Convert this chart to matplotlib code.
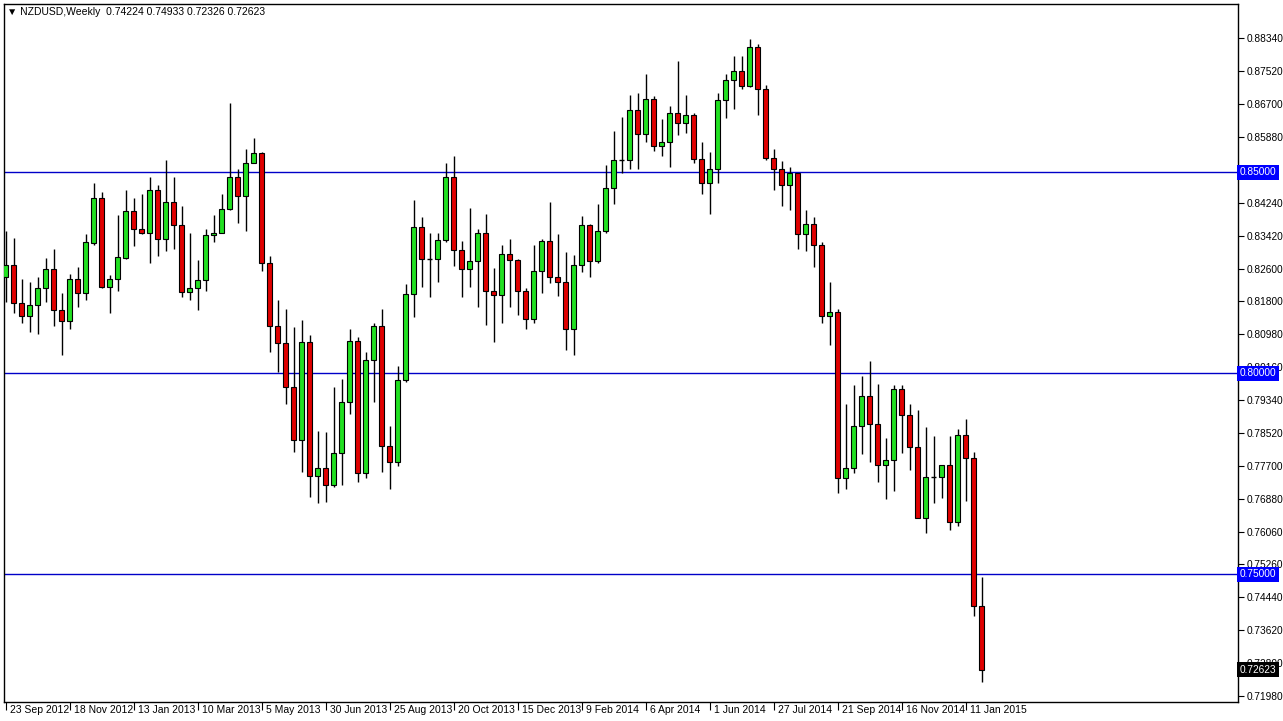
import matplotlib
matplotlib.use("Agg")
import matplotlib.pyplot as plt
import matplotlib.transforms as mtransforms
import numpy as np

plt.rcParams["font.family"] = ["Liberation Sans", "DejaVu Sans"]

# weekly NZDUSD candles, first week 23 Sep 2012
opens = [0.8240, 0.8269, 0.8174, 0.8142, 0.8169, 0.8212, 0.8259, 0.8157, 0.8130, 0.8234,
         0.8199, 0.8323, 0.8437, 0.8214, 0.8234, 0.8286, 0.8403, 0.8358, 0.8350, 0.8455,
         0.8333, 0.8425, 0.8368, 0.8202, 0.8212, 0.8231, 0.8343, 0.8350, 0.8408, 0.8489,
         0.8440, 0.8524, 0.8549, 0.8274, 0.8117, 0.8075, 0.7966, 0.7835, 0.8078, 0.7745,
         0.7765, 0.7721, 0.7802, 0.7929, 0.8080, 0.7753, 0.8033, 0.8117, 0.7820, 0.7780,
         0.7983, 0.8197, 0.8365, 0.8284, 0.8284, 0.8331, 0.8487, 0.8306, 0.8259, 0.8279,
         0.8350, 0.8204, 0.8194, 0.8296, 0.8281, 0.8204, 0.8135, 0.8254, 0.8328, 0.8239,
         0.8226, 0.8110, 0.8269, 0.8368, 0.8279, 0.8355, 0.8460, 0.8531, 0.8531, 0.8655,
         0.8596, 0.8683, 0.8566, 0.8576, 0.8648, 0.8623, 0.8643, 0.8534, 0.8474, 0.8509,
         0.8680, 0.8730, 0.8752, 0.8715, 0.8812, 0.8708, 0.8536, 0.8509, 0.8469, 0.8497,
         0.8346, 0.8370, 0.8318, 0.8142, 0.8152, 0.7740, 0.7765, 0.7869, 0.7944, 0.7874,
         0.7773, 0.7785, 0.7961, 0.7897, 0.7817, 0.7641, 0.7743, 0.7743, 0.7773, 0.7631,
         0.7847, 0.7790, 0.74224]
highs = [0.8355, 0.8336, 0.8234, 0.8226, 0.8239, 0.8286, 0.8308, 0.8199, 0.8246, 0.8264,
         0.8346, 0.8474, 0.8450, 0.8244, 0.8393, 0.8457, 0.8437, 0.8445, 0.8489, 0.8467,
         0.8531, 0.8487, 0.8415, 0.8348, 0.8281, 0.8360, 0.8393, 0.8445, 0.8673, 0.8509,
         0.8559, 0.8584, 0.8551, 0.8291, 0.8182, 0.8160, 0.8115, 0.8132, 0.8095, 0.7857,
         0.7854, 0.7966, 0.7986, 0.8110, 0.8090, 0.8053, 0.8125, 0.8160, 0.7869, 0.8018,
         0.8221, 0.8432, 0.8388, 0.8348, 0.8350, 0.8522, 0.8541, 0.8328, 0.8412, 0.8358,
         0.8395, 0.8261, 0.8318, 0.8333, 0.8283, 0.8212, 0.8318, 0.8333, 0.8427, 0.8346,
         0.8301, 0.8293, 0.8390, 0.8370, 0.8422, 0.8519, 0.8603, 0.8638, 0.8693, 0.8698,
         0.8745, 0.8690, 0.8633, 0.8665, 0.8777, 0.8693, 0.8648, 0.8576, 0.8551, 0.8698,
         0.8745, 0.8789, 0.8789, 0.8832, 0.8819, 0.8717, 0.8559, 0.8529, 0.8514, 0.8499,
         0.8405, 0.8388, 0.8326, 0.8226, 0.8160, 0.7924, 0.7971, 0.7993, 0.8031, 0.7974,
         0.7840, 0.7971, 0.7971, 0.7924, 0.7909, 0.7867, 0.7845, 0.7773, 0.7845, 0.7862,
         0.7887, 0.7805, 0.74933]
lows = [0.8178, 0.8150, 0.8125, 0.8102, 0.8097, 0.8177, 0.8117, 0.8045, 0.8110, 0.8164,
        0.8182, 0.8318, 0.8212, 0.8150, 0.8204, 0.8283, 0.8316, 0.8346, 0.8274, 0.8291,
        0.8303, 0.8308, 0.8189, 0.8182, 0.8157, 0.8204, 0.8326, 0.8348, 0.8405, 0.8373,
        0.8355, 0.8522, 0.8254, 0.8053, 0.8003, 0.7924, 0.7805, 0.7755, 0.7693, 0.7678,
        0.7681, 0.7716, 0.7721, 0.7899, 0.7730, 0.7740, 0.7929, 0.7755, 0.7711, 0.7770,
        0.7978, 0.8140, 0.8214, 0.8189, 0.8226, 0.8326, 0.8266, 0.8189, 0.8214, 0.8164,
        0.8120, 0.8078, 0.8125, 0.8164, 0.8145, 0.8110, 0.8125, 0.8199, 0.8224, 0.8192,
        0.8058, 0.8045, 0.8251, 0.8239, 0.8274, 0.8348, 0.8422, 0.8497, 0.8509, 0.8509,
        0.8576, 0.8554, 0.8541, 0.8512, 0.8593, 0.8598, 0.8524, 0.8447, 0.8395, 0.8474,
        0.8636, 0.8658, 0.8708, 0.8713, 0.8643, 0.8531, 0.8455, 0.8417, 0.8405, 0.8308,
        0.8303, 0.8264, 0.8125, 0.8070, 0.7703, 0.7711, 0.7753, 0.7800, 0.7780, 0.7730,
        0.7688, 0.7706, 0.7802, 0.7760, 0.7639, 0.7602, 0.7678, 0.7690, 0.7611, 0.7619,
        0.7683, 0.7396, 0.72326]
closes = [0.8270, 0.8174, 0.8142, 0.8169, 0.8212, 0.8259, 0.8157, 0.8130, 0.8234, 0.8199,
          0.8326, 0.8437, 0.8214, 0.8234, 0.8288, 0.8403, 0.8358, 0.8350, 0.8455, 0.8333,
          0.8425, 0.8368, 0.8202, 0.8212, 0.8231, 0.8343, 0.8350, 0.8408, 0.8489, 0.8440,
          0.8524, 0.8549, 0.8274, 0.8117, 0.8075, 0.7966, 0.7835, 0.8078, 0.7745, 0.7765,
          0.7721, 0.7802, 0.7929, 0.8080, 0.7753, 0.8033, 0.8117, 0.7820, 0.7780, 0.7983,
          0.8197, 0.8365, 0.8284, 0.8284, 0.8331, 0.8487, 0.8306, 0.8259, 0.8279, 0.8350,
          0.8204, 0.8194, 0.8296, 0.8281, 0.8204, 0.8135, 0.8254, 0.8328, 0.8239, 0.8226,
          0.8110, 0.8269, 0.8368, 0.8279, 0.8355, 0.8460, 0.8531, 0.8531, 0.8655, 0.8596,
          0.8683, 0.8566, 0.8576, 0.8648, 0.8623, 0.8643, 0.8534, 0.8474, 0.8509, 0.8680,
          0.8730, 0.8752, 0.8715, 0.8812, 0.8708, 0.8536, 0.8509, 0.8469, 0.8497, 0.8346,
          0.8370, 0.8318, 0.8142, 0.8152, 0.7740, 0.7765, 0.7869, 0.7944, 0.7874, 0.7773,
          0.7785, 0.7961, 0.7897, 0.7817, 0.7641, 0.7743, 0.7743, 0.7773, 0.7631, 0.7847,
          0.7790, 0.7422, 0.72623]

# date labels every 8 weeks
date_labels = ["23 Sep 2012", "18 Nov 2012", "13 Jan 2013", "10 Mar 2013", "5 May 2013",
               "30 Jun 2013", "25 Aug 2013", "20 Oct 2013", "15 Dec 2013", "9 Feb 2014",
               "6 Apr 2014", "1 Jun 2014", "27 Jul 2014", "21 Sep 2014", "16 Nov 2014",
               "11 Jan 2015"]
date_pos = [0, 8, 16, 24, 32, 40, 48, 56, 64, 72, 80, 88, 96, 104, 112, 120]

# price scale labels
price_ticks = [0.88340, 0.87520, 0.86700, 0.85880, 0.84240, 0.83420, 0.82600, 0.81800,
               0.80980, 0.80160, 0.79340, 0.78520, 0.77700, 0.76880, 0.76060, 0.75260,
               0.74440, 0.73620, 0.72800, 0.71980]
levels = [0.85, 0.80, 0.75]

W, H = 1283, 721
fig = plt.figure(figsize=(W / 100, H / 100), dpi=100)
fig.patch.set_facecolor("white")
ax = fig.add_axes([4 / W, 1 - 702 / H, (1238 - 4) / W, (702 - 4) / H])

o = np.array(opens)
h = np.array(highs)
l = np.array(lows)
c = np.array(closes)
x = np.arange(len(o))

# wicks
ax.vlines(x, l, h, color="black", lw=1, zorder=2)

# bodies
up = c > o
down = c < o
doji = np.abs(c - o) < 0.00005
ax.bar(x[up], (c - o)[up], bottom=o[up], width=0.65, color="#22e022",
       edgecolor="black", lw=0.8, zorder=3)
ax.bar(x[down], (o - c)[down], bottom=c[down], width=0.65, color="#e00000",
       edgecolor="black", lw=0.8, zorder=3)
ax.hlines(o[doji], x[doji] - 0.35, x[doji] + 0.35, color="black", lw=1, zorder=3)

# horizontal levels
for lv in levels:
    ax.axhline(lv, color="#0000c8", lw=1, zorder=1)

ax.set_xlim(-0.19, 154.06)
ax.set_ylim(0.71824, 0.89184)

for s in ax.spines.values():
    s.set_color("black")
    s.set_linewidth(1)

# right price axis
ax.yaxis.tick_right()
ax.set_yticks(price_ticks)
ax.set_yticklabels([f"{p:.5f}" for p in price_ticks])
ax.tick_params(axis="y", direction="out", length=4, width=0.8, pad=2,
               labelsize=7.3, colors="black")

# time axis
ax.set_xticks(date_pos)
ax.set_xticklabels(date_labels)
ax.tick_params(axis="x", direction="out", length=6, width=0.8, pad=-3.5, labelsize=7.5)
offset = mtransforms.ScaledTranslation(3 / 72, 0, fig.dpi_scale_trans)
for lab in ax.get_xticklabels():
    lab.set_ha("left")
    lab.set_transform(lab.get_transform() + offset)

# level labels on the price axis
trans = mtransforms.blended_transform_factory(ax.transAxes, ax.transData)
for lv in levels:
    ax.text(1.0015, lv, f"{lv:.5f}", transform=trans, fontsize=7.3, color="white",
            va="center", ha="left", zorder=10, clip_on=False,
            bbox=dict(boxstyle="square,pad=0.25", facecolor="#0000ff", edgecolor="none"))
ax.text(1.0015, closes[-1], f"{closes[-1]:.5f}", transform=trans, fontsize=7.3,
        color="white", va="center", ha="left", zorder=10, clip_on=False,
        bbox=dict(boxstyle="square,pad=0.25", facecolor="black", edgecolor="none"))

# header
fig.text(7 / W, 1 - 12 / H,
         "\u25bc NZDUSD,Weekly  %.5f %.5f %.5f %.5f" % (opens[-1], highs[-1], lows[-1], closes[-1]),
         fontsize=7.5, va="center", ha="left")

fig.savefig("out.png", dpi=100)
